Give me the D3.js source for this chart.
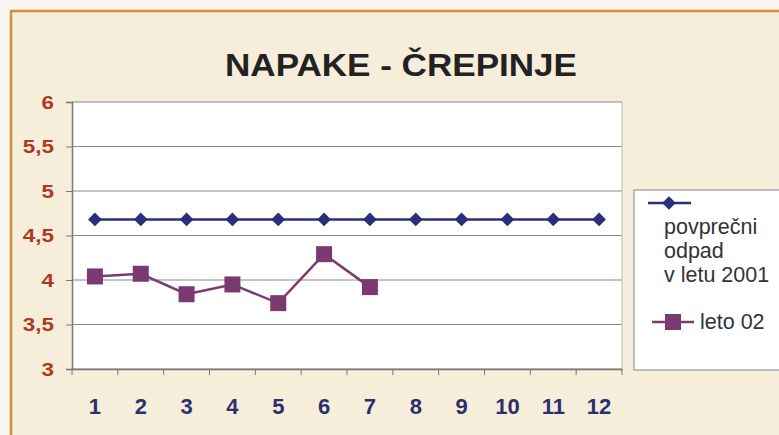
<!DOCTYPE html>
<html><head><meta charset="utf-8">
<script src="https://cdn.jsdelivr.net/npm/d3@7"></script>
<style>body{margin:0;background:#fbfaf6}svg{display:block}</style>
</head><body>
<svg id="c" width="779" height="435"></svg>
<script>
const categories = ["1","2","3","4","5","6","7","8","9","10","11","12"];
const avg2001 = [4.68,4.68,4.68,4.68,4.68,4.68,4.68,4.68,4.68,4.68,4.68,4.68];
const leto02 = [4.04,4.07,3.84,3.95,3.74,4.29,3.92];
const yTicks = [3,3.5,4,4.5,5,5.5,6];
const title = "NAPAKE - ČREPINJE";
const seriesNames = [["povprečni","odpad","v letu 2001"],["leto 02"]];

const svg = d3.select("#c");
const FONT = "Liberation Sans, Arial, sans-serif";
svg.append("rect").attr("x",0).attr("y",0).attr("width",779).attr("height",435).attr("fill","#f7f6f1");
svg.append("rect").attr("x",11).attr("y",11).attr("width",790).attr("height",440)
  .attr("fill","#f6eedb").attr("stroke","#d98a3c").attr("stroke-width",2.5);

svg.append("text").attr("x",401).attr("y",76).attr("text-anchor","middle")
  .attr("font-family",FONT).attr("font-weight","bold")
  .attr("font-size",32).attr("textLength",352).attr("lengthAdjust","spacingAndGlyphs")
  .attr("fill","#222").text(title);

const L=72,R=622,T=102,B=369;
const x = d3.scaleBand().domain(categories).range([L,R]);
const y = d3.scaleLinear().domain([3,6]).range([B,T]);

svg.append("rect").attr("x",L).attr("y",T).attr("width",R-L).attr("height",B-T).attr("fill","#ffffff");
svg.append("g").selectAll("line").data(yTicks).join("line")
  .attr("x1",L).attr("x2",R).attr("y1",d=>y(d)).attr("y2",d=>y(d))
  .attr("stroke","#8a8a8a").attr("stroke-width",1);
svg.append("line").attr("x1",R).attr("x2",R).attr("y1",T).attr("y2",B).attr("stroke","#b8b8b8");

const sx = 1.18;
const yAxis = svg.append("g").attr("transform",`translate(${L},0)`)
  .call(d3.axisLeft(y).tickValues(yTicks).tickSize(6).tickPadding(12).tickFormat(d=>String(d).replace(".",",")));
yAxis.select(".domain").attr("stroke","#777").attr("stroke-width",1.5);
yAxis.selectAll(".tick line").attr("stroke","#777");
yAxis.selectAll("text").attr("font-family",FONT).attr("font-weight","bold")
  .attr("font-size",19).attr("fill","#b0381f")
  .attr("x",-18/sx).attr("transform",`scale(${sx},1)`);

const xAxis = svg.append("g").attr("transform",`translate(0,${B})`)
  .call(d3.axisBottom(x).tickSize(0).tickPadding(29));
xAxis.select(".domain").attr("stroke","#777").attr("stroke-width",1.5);
xAxis.selectAll("text").attr("font-family",FONT).attr("font-weight","bold")
  .attr("font-size",22).attr("fill","#2b2f6e");
const bounds = d3.range(categories.length+1).map(i=>L+i*x.step());
svg.append("g").selectAll("line").data(bounds).join("line")
  .attr("x1",d=>d).attr("x2",d=>d).attr("y1",B).attr("y2",B+6).attr("stroke","#777");

const cx = d=>x(d)+x.bandwidth()/2;
const blue="#2b2e7a", purple="#7b3a6f";
const line = d3.line().x((d,i)=>cx(categories[i])).y(d=>y(d));
svg.append("path").datum(avg2001).attr("d",line).attr("fill","none").attr("stroke",blue).attr("stroke-width",2.5);
svg.append("path").datum(leto02).attr("d",line).attr("fill","none").attr("stroke",purple).attr("stroke-width",2.5);
const diamond = d3.symbol().type(d3.symbolDiamond2).size(120);
svg.append("g").selectAll("path").data(avg2001).join("path")
  .attr("d",diamond).attr("transform",(d,i)=>`translate(${cx(categories[i])},${y(d)})`)
  .attr("fill",blue);
svg.append("g").selectAll("rect").data(leto02).join("rect")
  .attr("x",(d,i)=>cx(categories[i])-8).attr("y",d=>y(d)-8).attr("width",16).attr("height",16)
  .attr("fill",purple);

const lg = svg.append("g");
lg.append("rect").attr("x",634).attr("y",190).attr("width",150).attr("height",180)
  .attr("fill","#fff").attr("stroke","#999").attr("stroke-width",1.2);
lg.append("line").attr("x1",648).attr("x2",691).attr("y1",203).attr("y2",203).attr("stroke",blue).attr("stroke-width",2.5);
lg.append("path").attr("d",diamond).attr("transform","translate(669,203)").attr("fill",blue);
seriesNames[0].forEach((t,i)=>lg.append("text").attr("x",664).attr("y",234+i*24)
  .attr("font-family",FONT).attr("font-size",21.5).attr("fill","#333").text(t));
lg.append("line").attr("x1",652).attr("x2",694).attr("y1",322).attr("y2",322).attr("stroke",purple).attr("stroke-width",2.5);
lg.append("rect").attr("x",665).attr("y",314).attr("width",16).attr("height",16).attr("fill",purple);
lg.append("text").attr("x",700).attr("y",329).attr("font-family",FONT)
  .attr("font-size",21.5).attr("fill","#333").text(seriesNames[1][0]);
</script>
</body></html>
